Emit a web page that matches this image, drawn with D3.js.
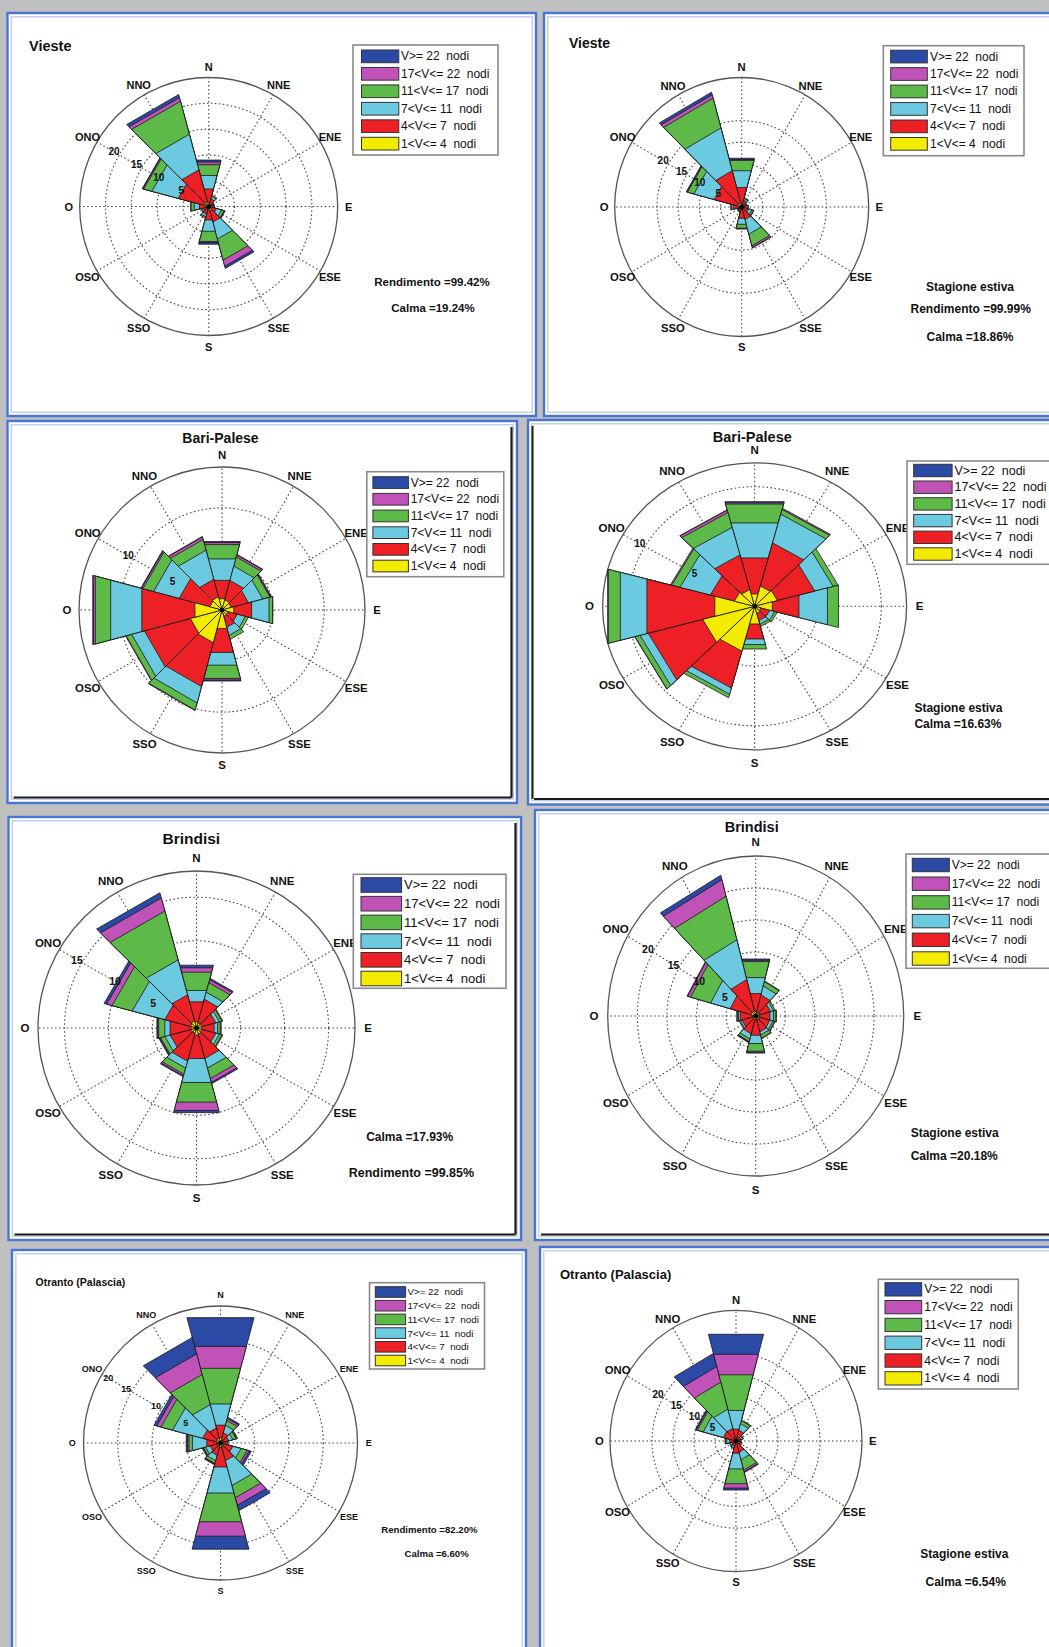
<!DOCTYPE html>
<html>
<head>
<meta charset="utf-8">
<script src="https://cdn.jsdelivr.net/npm/d3@7"></script>
<style>
  body { margin: 0; background: #c0c0c0; }
  svg { display: block; }
  text { font-family: "Liberation Sans", Arial, Helvetica, sans-serif; fill: #111; }
</style>
</head>
<body>
<svg id="fig" width="1049" height="1647"></svg>
<script>
// ---- categories ----
const directions = ["N", "NNE", "ENE", "E", "ESE", "SSE", "S", "SSO", "OSO", "O", "ONO", "NNO"];
const directionAngles = [0, 30, 60, 90, 120, 150, 180, 210, 240, 270, 300, 330];
// speed classes from the innermost (lowest) to the outermost (highest)
const speedClasses = ["1<V<= 4  nodi", "4<V<= 7  nodi", "7<V<= 11  nodi", "11<V<= 17  nodi", "17<V<= 22  nodi", "V>= 22  nodi"];
const classColors = ["#f3ec00", "#ec2025", "#6bcadf", "#5dba48", "#c153b8", "#2b4aa6"];

// ---- frequencies (%) per direction (rows N..NNO) and speed class (inner -> outer) ----
const viesteAnnual = [
  [0.8, 2.6, 2.6, 2.1, 0.5, 0.4],
  [0.5, 1.0, 0.5, 0.2, 0.0, 0.0],
  [0.3, 0.5, 0.2, 0.1, 0.0, 0.0],
  [0.3, 0.5, 0.2, 0.1, 0.0, 0.0],
  [0.4, 1.1, 1.0, 0.5, 0.1, 0.1],
  [0.8, 2.2, 3.3, 4.1, 1.2, 0.4],
  [0.6, 2.0, 2.2, 2.0, 0.2, 0.3],
  [0.4, 1.1, 0.5, 0.3, 0.0, 0.0],
  [0.3, 0.7, 0.3, 0.2, 0.0, 0.0],
  [0.5, 1.3, 1.0, 0.6, 0.1, 0.0],
  [0.8, 5.1, 5.1, 1.6, 0.2, 0.1],
  [0.9, 6.2, 6.9, 6.4, 0.7, 0.6]
];
const viesteSummer = [
  [0.6, 3.9, 3.9, 2.4, 0.2, 0.3],
  [0.4, 1.2, 0.4, 0.2, 0.0, 0.0],
  [0.3, 0.7, 0.2, 0.1, 0.0, 0.0],
  [0.3, 0.7, 0.4, 0.2, 0.0, 0.0],
  [0.4, 1.2, 0.8, 0.4, 0.1, 0.0],
  [0.5, 2.4, 3.4, 2.7, 0.4, 0.1],
  [0.4, 2.2, 1.4, 0.9, 0.1, 0.1],
  [0.3, 0.7, 0.2, 0.1, 0.0, 0.0],
  [0.3, 0.5, 0.2, 0.1, 0.0, 0.0],
  [0.3, 1.7, 0.4, 0.2, 0.0, 0.0],
  [1.0, 5.5, 4.8, 1.5, 0.15, 0.15],
  [1.0, 7.4, 9.9, 6.9, 0.8, 0.6]
];
const bariAnnual = [
  [1.1, 1.8, 2.1, 1.4, 0.2, 0.1],
  [1.0, 1.9, 1.4, 0.9, 0.2, 0.05],
  [0.9, 1.7, 1.4, 0.7, 0.1, 0.05],
  [1.15, 1.75, 1.7, 0.35, 0.02, 0.0],
  [0.6, 0.9, 0.8, 0.3, 0.0, 0.0],
  [0.6, 1.1, 0.8, 0.4, 0.0, 0.0],
  [1.8, 2.35, 1.25, 1.3, 0.15, 0.1],
  [3.2, 4.3, 1.6, 0.7, 0.05, 0.0],
  [3.1, 4.5, 1.25, 0.55, 0.05, 0.0],
  [2.65, 5.2, 3.05, 1.5, 0.2, 0.05],
  [1.2, 3.0, 2.5, 1.05, 0.15, 0.05],
  [1.3, 1.7, 2.85, 1.05, 0.25, 0.05]
];
const bariSummer = [
  [1.03, 3.01, 2.93, 1.58, 0.1, 0.1],
  [1.7, 3.6, 2.4, 0.4, 0.1, 0.0],
  [1.8, 2.95, 1.45, 0.4, 0.0, 0.0],
  [1.4, 2.1, 2.25, 0.87, 0.0, 0.0],
  [0.5, 0.7, 0.4, 0.2, 0.0, 0.0],
  [0.6, 0.6, 0.3, 0.2, 0.0, 0.0],
  [1.48, 1.25, 0.47, 0.37, 0.0, 0.0],
  [3.75, 3.09, 0.51, 0.3, 0.0, 0.0],
  [4.1, 4.3, 0.65, 0.4, 0.02, 0.0],
  [3.14, 5.36, 2.1, 0.95, 0.05, 0.0],
  [1.6, 1.9, 2.4, 0.65, 0.1, 0.0],
  [1.4, 2.9, 2.3, 1.25, 0.2, 0.02]
];
const brindisiAnnual = [
  [0.7, 2.3, 1.3, 2.1, 0.5, 0.3],
  [0.6, 2.7, 0.8, 1.1, 0.35, 0.15],
  [0.6, 1.6, 0.4, 0.3, 0.1, 0.0],
  [0.6, 1.4, 0.4, 0.3, 0.1, 0.0],
  [0.6, 1.6, 0.4, 0.3, 0.1, 0.0],
  [0.7, 2.8, 1.1, 1.2, 0.45, 0.15],
  [0.8, 2.7, 2.75, 2.25, 0.95, 0.25],
  [0.6, 3.2, 0.8, 0.7, 0.2, 0.1],
  [0.6, 2.4, 0.6, 0.5, 0.1, 0.1],
  [0.6, 2.4, 0.6, 0.7, 0.1, 0.1],
  [0.7, 2.9, 3.7, 2.3, 0.6, 0.3],
  [0.8, 3.0, 4.0, 5.6, 1.5, 0.6]
];
const brindisiSummer = [
  [0.7, 2.8, 2.5, 2.5, 0.2, 0.2],
  [0.6, 2.7, 1.4, 0.7, 0.1, 0.0],
  [0.6, 1.9, 0.5, 0.3, 0.0, 0.0],
  [0.6, 1.8, 0.6, 0.4, 0.1, 0.0],
  [0.6, 1.8, 0.5, 0.3, 0.1, 0.0],
  [0.6, 1.9, 0.5, 0.5, 0.1, 0.0],
  [0.6, 2.4, 1.3, 1.2, 0.15, 0.15],
  [0.6, 2.2, 0.8, 0.4, 0.1, 0.1],
  [0.5, 1.8, 0.3, 0.2, 0.0, 0.0],
  [0.5, 2.1, 0.3, 0.2, 0.1, 0.0],
  [0.8, 3.5, 3.3, 3.4, 0.5, 0.1],
  [0.8, 4.9, 6.2, 6.8, 2.6, 0.7]
];
const otrantoAnnual = [
  [0.8, 1.8, 3.1, 5.2, 3.2, 4.2],
  [0.4, 1.1, 1.1, 0.7, 0.3, 0.2],
  [0.4, 0.8, 0.6, 0.5, 0.1, 0.1],
  [0.4, 0.4, 0.2, 0.1, 0.0, 0.0],
  [0.5, 1.3, 1.2, 0.9, 0.3, 0.3],
  [0.6, 2.0, 3.6, 1.8, 1.1, 0.8],
  [0.6, 2.9, 3.8, 4.2, 2.1, 1.9],
  [0.4, 1.4, 0.8, 0.4, 0.1, 0.1],
  [0.4, 1.1, 0.7, 0.3, 0.1, 0.1],
  [0.5, 1.5, 2.1, 0.5, 0.2, 0.2],
  [0.6, 2.0, 4.4, 1.7, 0.6, 0.4],
  [0.7, 1.5, 3.4, 4.4, 3.0, 2.4]
];
const otrantoSummer = [
  [0.6, 2.1, 4.3, 8.2, 4.7, 4.6],
  [0.5, 2.0, 1.5, 0.7, 0.1, 0.0],
  [0.4, 0.8, 0.4, 0.2, 0.0, 0.0],
  [0.4, 0.5, 0.2, 0.1, 0.0, 0.0],
  [0.4, 0.6, 0.3, 0.2, 0.0, 0.0],
  [0.5, 2.1, 1.7, 2.4, 0.4, 0.2],
  [0.5, 2.3, 3.6, 3.4, 1.0, 0.45],
  [0.4, 0.8, 0.4, 0.2, 0.0, 0.0],
  [0.4, 0.6, 0.4, 0.2, 0.0, 0.0],
  [0.5, 1.0, 0.7, 0.3, 0.1, 0.0],
  [0.6, 2.4, 4.8, 1.4, 0.3, 0.2],
  [0.6, 2.3, 4.4, 6.2, 3.6, 3.0]
];

// ---- window frames of the eight plots ----
const frames = [
  { x: 7.5, y: 13, w: 528.5, h: 403, shadow: "" },
  { x: 544, y: 13, w: 520, h: 403, shadow: "" },
  { x: 7.5, y: 421, w: 509.5, h: 382, shadow: "rb" },
  { x: 528, y: 420, w: 530, h: 384.5, shadow: "lb" },
  { x: 8.5, y: 817, w: 512.5, h: 423, shadow: "rb" },
  { x: 535, y: 810, w: 520, h: 430, shadow: "b" },
  { x: 12, y: 1250, w: 514, h: 420, shadow: "" },
  { x: 540, y: 1247, w: 520, h: 420, shadow: "" }
];

// ---- layout of each wind rose ----
const panels = [
  { data: viesteAnnual, cx: 208.7, cy: 206.5, rx: 129, ry: 129, vmax: 25, rings: [5, 10, 15, 20], ringLabels: [5, 10, 15, 20],
    labelOff: 11, dirFont: 11, ringFont: 10, ringShift: {},
    title: { text: "Vieste", x: 29, y: 46, size: 14.5, anchor: "start" },
    legend: { x: 353, y: 45, w: 145, h: 110, top: 5, pitch: 17.46, swX: 8.5, swW: 37.3, swH: 12.7, textX: 48, font: 12 },
    notes: [ { text: "Rendimento =99.42%", x: 432, y: 281.7, size: 11.5, anchor: "middle" },
             { text: "Calma =19.24%", x: 433, y: 308.3, size: 11.5, anchor: "middle" } ] },
  { data: viesteSummer, cx: 741.7, cy: 207, rx: 127, ry: 129.5, vmax: 30, rings: [5, 10, 15, 20], ringLabels: [5, 10, 15, 20],
    labelOff: 10.5, dirFont: 11.3, ringFont: 10, ringShift: {},
    title: { text: "Vieste", x: 569, y: 43.3, size: 14, anchor: "start" },
    legend: { x: 883.3, y: 45.7, w: 140.7, h: 110, top: 4.5, pitch: 17.46, swX: 7.4, swW: 36.6, swH: 12.7, textX: 46.7, font: 12 },
    notes: [ { text: "Stagione estiva", x: 970, y: 287.3, size: 12, anchor: "middle" },
             { text: "Rendimento =99.99%", x: 970.7, y: 309.3, size: 12, anchor: "middle" },
             { text: "Calma =18.86%", x: 970, y: 337.3, size: 12, anchor: "middle" } ] },
  { data: bariAnnual, cx: 222, cy: 610, rx: 143, ry: 143, vmax: 14, rings: [5, 10], ringLabels: [5, 10],
    labelOff: 12, dirFont: 11.4, ringFont: 10, ringShift: {},
    title: { text: "Bari-Palese", x: 220.5, y: 437.7, size: 14, anchor: "middle" },
    legend: { x: 366.8, y: 471.7, w: 137, h: 105, top: 5, pitch: 16.7, swX: 6.1, swW: 35.5, swH: 11.7, textX: 43.9, font: 12 },
    notes: [] },
  { data: bariSummer, cx: 754.6, cy: 606.3, rx: 152, ry: 143.5, vmax: 12, rings: [5, 10], ringLabels: [5, 10],
    labelOff: 13, dirFont: 11.5, ringFont: 10, ringShift: {},
    title: { text: "Bari-Palese", x: 752.3, y: 436.7, size: 14.5, anchor: "middle" },
    legend: { x: 907, y: 461, w: 150, h: 103.3, top: 3.3, pitch: 16.7, swX: 6.7, swW: 38.4, swH: 12.4, textX: 47.5, font: 12.5 },
    notes: [ { text: "Stagione estiva", x: 914.4, y: 707.7, size: 12, anchor: "start" },
             { text: "Calma =16.63%", x: 914.4, y: 724, size: 12, anchor: "start" } ] },
  { data: brindisiAnnual, cx: 196.5, cy: 1028, rx: 158.5, ry: 157, vmax: 18, rings: [5, 10, 15], ringLabels: [5, 10, 15],
    labelOff: 13, dirFont: 11.5, ringFont: 10.5, ringShift: {},
    title: { text: "Brindisi", x: 191.3, y: 838.3, size: 15.5, anchor: "middle" },
    legend: { x: 353.3, y: 874.3, w: 152.7, h: 114, top: 3.4, pitch: 18.7, swX: 7.7, swW: 40.6, swH: 14.6, textX: 50.7, font: 13 },
    notes: [ { text: "Calma =17.93%", x: 409.7, y: 1137.3, size: 12, anchor: "middle" },
             { text: "Rendimento =99.85%", x: 411.4, y: 1173.3, size: 12.5, anchor: "middle" } ] },
  { data: brindisiSummer, cx: 755.7, cy: 1016, rx: 148, ry: 160, vmax: 25, rings: [5, 10, 15, 20], ringLabels: [5, 10, 15, 20],
    labelOff: 13.7, dirFont: 11.5, ringFont: 10.5, ringShift: {},
    title: { text: "Brindisi", x: 751.7, y: 826.7, size: 14.5, anchor: "middle" },
    legend: { x: 906, y: 854, w: 150, h: 114.3, top: 4.3, pitch: 18.7, swX: 6.3, swW: 37, swH: 13.4, textX: 45.7, font: 12 },
    notes: [ { text: "Stagione estiva", x: 910.7, y: 1133.3, size: 12, anchor: "start" },
             { text: "Calma =20.18%", x: 910.7, y: 1155.7, size: 12, anchor: "start" } ] },
  { data: otrantoAnnual, cx: 220.5, cy: 1443, rx: 137, ry: 137, vmax: 20, rings: [5, 10, 15], ringLabels: [5, 10, 15, 20],
    labelOff: 11.3, dirFont: 9, ringFont: 9, ringShift: { 20: -7.5 },
    title: { text: "Otranto (Palascia)", x: 35.5, y: 1281.7, size: 10.5, anchor: "start" },
    legend: { x: 369.5, y: 1282.7, w: 115, h: 86.3, top: 4, pitch: 13.7, swX: 5.8, swW: 30.3, swH: 10.6, textX: 37.9, font: 9.8 },
    notes: [ { text: "Rendimento =82.20%", x: 429.4, y: 1529.3, size: 9.6, anchor: "middle" },
             { text: "Calma =6.60%", x: 436.6, y: 1553.3, size: 9.6, anchor: "middle" } ] },
  { data: otrantoSummer, cx: 736, cy: 1441, rx: 126, ry: 130.7, vmax: 30, rings: [5, 10, 15, 20], ringLabels: [5, 10, 15, 20],
    labelOff: 10.7, dirFont: 11.3, ringFont: 10, ringShift: {},
    title: { text: "Otranto (Palascia)", x: 560, y: 1274.3, size: 13, anchor: "start" },
    legend: { x: 878.3, y: 1279.3, w: 140, h: 109.7, top: 3.4, pitch: 17.8, swX: 6.7, swW: 36.7, swH: 13.3, textX: 46, font: 12 },
    notes: [ { text: "Stagione estiva", x: 964.3, y: 1554, size: 12, anchor: "middle" },
             { text: "Calma =6.54%", x: 965.7, y: 1582.3, size: 12, anchor: "middle" } ] }
];

const svg = d3.select("#fig");
const toRad = Math.PI / 180;
const halfSector = 15;   // each direction bar spans 30 degrees

// window frames
const fg = svg.append("g");
frames.forEach(f => {
  fg.append("rect").attr("x", f.x).attr("y", f.y).attr("width", f.w).attr("height", f.h)
    .attr("fill", "#ffffff").attr("stroke", "#4675d6").attr("stroke-width", 2.4);
  fg.append("rect").attr("x", f.x + 3.8).attr("y", f.y + 3.8).attr("width", f.w - 7.6).attr("height", f.h - 7.6)
    .attr("fill", "none").attr("stroke", "#b3c6e6").attr("stroke-width", 1.2);
  const s = 5.5;
  if (f.shadow.includes("r")) fg.append("line").attr("x1", f.x + f.w - s).attr("x2", f.x + f.w - s)
    .attr("y1", f.y + 6).attr("y2", f.y + f.h - s).attr("stroke", "#1a1a1a").attr("stroke-width", 2.2);
  if (f.shadow.includes("b")) fg.append("line").attr("x1", f.x + 6).attr("x2", f.x + f.w - s)
    .attr("y1", f.y + f.h - s).attr("y2", f.y + f.h - s).attr("stroke", "#1a1a1a").attr("stroke-width", 2.2);
  if (f.shadow.includes("l")) fg.append("line").attr("x1", f.x + 4.5).attr("x2", f.x + 4.5)
    .attr("y1", f.y + 6).attr("y2", f.y + f.h - s).attr("stroke", "#1a1a1a").attr("stroke-width", 2);
});

panels.forEach(p => {
  const g = svg.append("g");
  const r = d3.scaleLinear().domain([0, p.vmax]).range([0, 1]);
  const pt = (deg, v) => [p.cx + Math.sin(deg * toRad) * r(v) * p.rx,
                          p.cy - Math.cos(deg * toRad) * r(v) * p.ry];
  const outward = (deg, v, extra) => [p.cx + Math.sin(deg * toRad) * (r(v) * p.rx + extra),
                                      p.cy - Math.cos(deg * toRad) * (r(v) * p.ry + extra)];

  // polar grid
  g.selectAll("ellipse.ring").data(p.rings).join("ellipse").attr("class", "ring")
    .attr("cx", p.cx).attr("cy", p.cy)
    .attr("rx", v => r(v) * p.rx).attr("ry", v => r(v) * p.ry)
    .attr("fill", "none").attr("stroke", "#4a4a4a").attr("stroke-width", 1.1).attr("stroke-dasharray", "1.6,2.4");
  g.selectAll("line.spoke").data(directionAngles).join("line").attr("class", "spoke")
    .attr("x1", p.cx).attr("y1", p.cy)
    .attr("x2", a => pt(a, p.vmax)[0]).attr("y2", a => pt(a, p.vmax)[1])
    .attr("stroke", "#4a4a4a").attr("stroke-width", 1.1).attr("stroke-dasharray", "1.6,2.4");
  g.append("ellipse").attr("cx", p.cx).attr("cy", p.cy)
    .attr("rx", r(p.vmax) * p.rx).attr("ry", r(p.vmax) * p.ry)
    .attr("fill", "none").attr("stroke", "#555").attr("stroke-width", 1.3);

  // stacked direction bars: cumulative frequency, outer classes drawn first
  const cum = p.data.map(row => Array.from(d3.cumsum(row)));
  const chord = 1 / Math.cos(halfSector * toRad);
  const wedges = [];
  for (let k = speedClasses.length - 1; k >= 0; k--) {
    cum.forEach((row, i) => {
      if (p.data[i][k] <= 0) return;
      const a = directionAngles[i];
      const v = row[k] * chord;
      wedges.push({ k, pts: [[p.cx, p.cy], pt(a - halfSector, v), pt(a + halfSector, v)] });
    });
  }
  const poly = d3.line().curve(d3.curveLinearClosed);
  g.selectAll("path.bar").data(wedges).join("path").attr("class", "bar")
    .attr("d", d => poly(d.pts))
    .attr("fill", d => classColors[d.k])
    .attr("stroke", "#161616").attr("stroke-width", 0.8).attr("stroke-linejoin", "bevel");
  g.append("circle").attr("cx", p.cx).attr("cy", p.cy).attr("r", 2.2).attr("fill", "#000");

  // ring values along the ONO spoke
  const ringPos = v => outward(300, v, p.ringShift[v] !== undefined ? p.ringShift[v] : 6);
  g.selectAll("text.ringlab").data(p.ringLabels).join("text").attr("class", "ringlab")
    .attr("x", v => ringPos(v)[0]).attr("y", v => ringPos(v)[1])
    .attr("text-anchor", "middle").attr("dominant-baseline", "central")
    .attr("font-size", p.ringFont).attr("font-weight", "bold")
    .text(v => v);

  // direction labels
  g.selectAll("text.dir").data(directions).join("text").attr("class", "dir")
    .attr("x", (d, i) => outward(directionAngles[i], p.vmax, p.labelOff)[0])
    .attr("y", (d, i) => outward(directionAngles[i], p.vmax, p.labelOff)[1])
    .attr("text-anchor", "middle").attr("dominant-baseline", "central")
    .attr("font-size", p.dirFont).attr("font-weight", "bold")
    .text(d => d);

  // title
  g.append("text").attr("x", p.title.x).attr("y", p.title.y)
    .attr("text-anchor", p.title.anchor).attr("dominant-baseline", "central")
    .attr("font-size", p.title.size).attr("font-weight", "bold").text(p.title.text);

  // legend
  const L = p.legend;
  const lg = g.append("g").attr("transform", `translate(${L.x},${L.y})`);
  lg.append("rect").attr("width", L.w).attr("height", L.h)
    .attr("fill", "#fff").attr("stroke", "#8a8a8a").attr("stroke-width", 1.6);
  const order = d3.range(speedClasses.length).reverse();
  order.forEach((k, row) => {
    const y0 = L.top + row * L.pitch;
    lg.append("rect").attr("x", L.swX).attr("y", y0).attr("width", L.swW).attr("height", L.swH)
      .attr("fill", classColors[k]).attr("stroke", "#333").attr("stroke-width", 1);
    lg.append("text").attr("x", L.textX).attr("y", y0 + L.swH / 2)
      .attr("dominant-baseline", "central").attr("font-size", L.font)
      .attr("xml:space", "preserve").style("white-space", "pre")
      .text(speedClasses[k]);
  });

  // notes
  p.notes.forEach(n => {
    g.append("text").attr("x", n.x).attr("y", n.y)
      .attr("text-anchor", n.anchor).attr("dominant-baseline", "central")
      .attr("font-size", n.size).attr("font-weight", "bold").text(n.text);
  });
});
</script>
</body>
</html>
